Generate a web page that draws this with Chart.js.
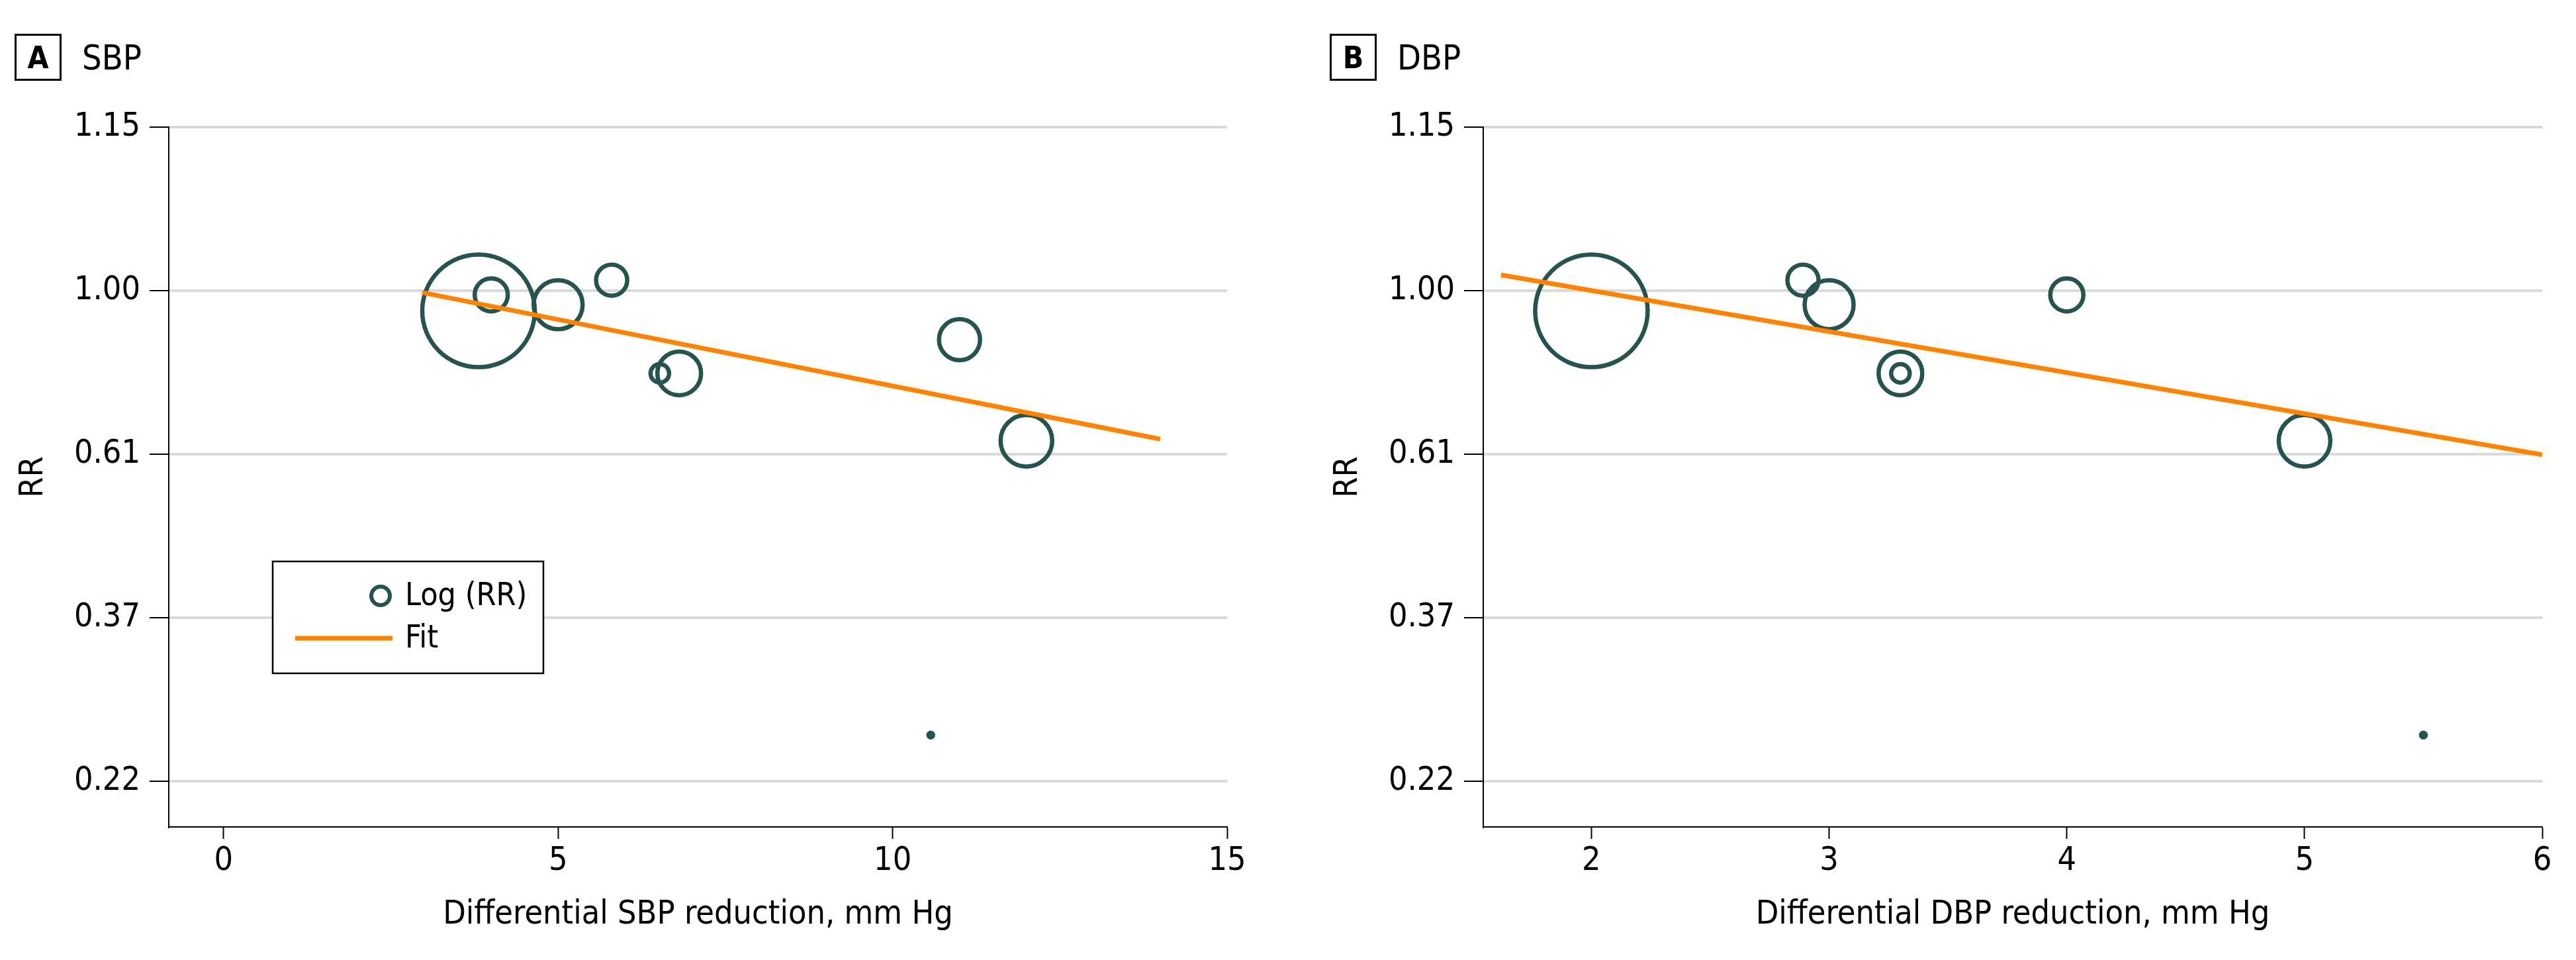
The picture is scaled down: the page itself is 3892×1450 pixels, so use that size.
<!DOCTYPE html>
<html>
<head>
<meta charset="utf-8">
<title>SBP / DBP reduction vs RR</title>
<script src="https://cdn.jsdelivr.net/npm/chart.js@4.4.1/dist/chart.umd.min.js"></script>
<style>
  html, body { margin: 0; padding: 0; background: #fff; }
  body { width: 3892px; height: 1450px; position: relative; overflow: hidden;
         font-family: 'Liberation Sans Narrow', 'DejaVu Sans Condensed', sans-serif; color: #000; }
  .panel { position: absolute; top: 0; width: 1946px; height: 1450px; }
  .panel canvas { position: absolute; left: 0; top: 0; }
  .tag { position: absolute; top: 51px; height: 71px; display: flex; align-items: center; }
  .tag b { box-sizing: border-box; width: 71px; height: 71px; border: 3px solid #000; flex: none;
           display: flex; align-items: center; justify-content: center; font-size: 46px; }
  .tag span { font-size: 52px; margin-left: 31px; }
</style>
</head>
<body>
<div class="panel" style="left:0">
  <canvas id="sbpChart" width="1946" height="1450"></canvas>
  <div class="tag" style="left:22px"><b>A</b><span>SBP</span></div>
</div>
<div class="panel" style="left:1946px">
  <canvas id="dbpChart" width="1946" height="1450"></canvas>
  <div class="tag" style="left:63px"><b>B</b><span>DBP</span></div>
</div>
<script>
const FONT = "'Liberation Sans Narrow', 'DejaVu Sans Condensed', sans-serif";
const TEAL = '#26524f';
const ORANGE = '#ff8200';

// y axis is log(RR); labels are the RR values printed on the figure
const yTickPos = [0.5, 0, -0.5, -1, -1.5];
const yTickLabels = ['1.15', '1.00', '0.61', '0.37', '0.22'];

// panel A - SBP
const sbpX = [3.81, 4.0, 5.0, 5.8, 6.52, 6.81, 11.0, 12.0, 10.57];
const sbpLogRR = [-0.062, -0.013, -0.043, 0.032, -0.253, -0.253, -0.150, -0.459, -1.359];
const sbpWeight = [85, 25, 37, 23.5, 14, 33, 31, 39, 3.5];
const sbpFitX = [2.97, 14];
const sbpFitY = [-0.006, -0.454];
const sbpXTicks = [0, 5, 10, 15];

// panel B - DBP
const dbpX = [2.0, 2.89, 3.0, 3.3, 3.3, 4.0, 5.0, 5.5];
const dbpLogRR = [-0.062, 0.032, -0.043, -0.253, -0.253, -0.013, -0.459, -1.359];
const dbpWeight = [85, 23.5, 37, 33, 14, 25, 39, 3.5];
const dbpFitX = [1.62, 6];
const dbpFitY = [0.048, -0.502];
const dbpXTicks = [2, 3, 4, 5, 6];

Chart.defaults.font.family = FONT;
Chart.defaults.color = '#000';

// boxed legend sitting inside the plot area (panel A only)
const boxLegend = {
  id: 'boxLegend',
  afterDatasetsDraw(chart, args, opts) {
    if (!opts.show) return;
    const { ctx, chartArea } = chart;
    const left = chartArea.left + 157, top = chartArea.top + 656;
    const w = 409, h = 169;
    ctx.save();
    ctx.fillStyle = '#fff';
    ctx.fillRect(left, top, w, h);
    ctx.strokeStyle = '#000';
    ctx.lineWidth = 2.5;
    ctx.strokeRect(left, top, w, h);

    const bubbles = chart.data.datasets.find(d => d.type !== 'line');
    const fit = chart.data.datasets.find(d => d.type === 'line');

    ctx.font = '48px ' + FONT;
    ctx.fillStyle = '#000';
    ctx.textBaseline = 'middle';
    ctx.textAlign = 'left';

    // bubble row
    ctx.beginPath();
    ctx.arc(left + 163, top + 52, 14, 0, Math.PI * 2);
    ctx.strokeStyle = bubbles.borderColor;
    ctx.lineWidth = 6;
    ctx.stroke();
    ctx.fillText(bubbles.label, left + 200, top + 54);

    // fit row
    ctx.beginPath();
    ctx.moveTo(left + 34, top + 116);
    ctx.lineTo(left + 181, top + 116);
    ctx.strokeStyle = fit.borderColor;
    ctx.lineWidth = 7;
    ctx.stroke();
    ctx.fillText(fit.label, left + 200, top + 118);
    ctx.restore();
  }
};

function drawPanel(id, o) {
  const ctx = document.getElementById(id).getContext('2d');
  return new Chart(ctx, {
    type: 'bubble',
    data: {
      datasets: [
        {
          type: 'line',
          label: 'Fit',
          data: o.fitX.map((x, i) => ({ x: x, y: o.fitY[i] })),
          borderColor: ORANGE,
          borderWidth: 7,
          pointRadius: 0,
          tension: 0,
          fill: false,
          order: 0
        },
        {
          label: 'Log (RR)',
          data: o.x.map((x, i) => ({ x: x, y: o.y[i], r: o.w[i] })),
          backgroundColor: 'rgba(0,0,0,0)',
          borderColor: TEAL,
          borderWidth: 6.5,
          hoverRadius: 0,
          order: 1
        }
      ]
    },
    options: {
      responsive: false,
      animation: false,
      devicePixelRatio: 1,
      layout: { padding: o.pad, autoPadding: false },   // big bubbles would otherwise widen the padding
      plugins: {
        legend: { display: false },
        tooltip: { enabled: false },
        boxLegend: { show: o.legend }
      },
      scales: {
        x: {
          type: 'linear',
          min: o.xMin,
          max: o.xMax,
          afterBuildTicks: (s) => { s.ticks = o.xTicks.map(v => ({ value: v })); },
          afterFit: (s) => { s.height = 163; s.paddingLeft = 0; s.paddingRight = 0; },
          grid: { drawOnChartArea: false, tickLength: 18, tickColor: '#000', tickWidth: 2 },
          border: { color: '#000', width: 2 },
          ticks: { font: { size: 50 }, color: '#000', padding: 4, maxRotation: 0, autoSkip: false },
          title: { display: true, text: o.xTitle, font: { size: 50 }, color: '#000', padding: 0 }
        },
        y: {
          type: 'linear',
          min: -1.64,
          max: 0.5,
          afterBuildTicks: (s) => { s.ticks = yTickPos.map(v => ({ value: v })); },
          afterFit: (s) => { s.width = 234; s.paddingTop = 0; s.paddingBottom = 0; },
          grid: { color: '#d9d9d9', lineWidth: 4, tickLength: 29, tickColor: '#000', tickWidth: 2 },
          border: { color: '#000', width: 2 },
          ticks: { callback: (v, i) => yTickLabels[i], font: { size: 50 }, color: '#000', padding: 14 },
          title: { display: true, text: 'RR', font: { size: 50 }, color: '#000', padding: 0 }
        }
      }
    },
    plugins: [boxLegend]
  });
}

drawPanel('sbpChart', {
  x: sbpX, y: sbpLogRR, w: sbpWeight, fitX: sbpFitX, fitY: sbpFitY,
  xTicks: sbpXTicks, xMin: -0.82, xMax: 15,
  xTitle: 'Differential SBP reduction, mm Hg',
  pad: { left: 21, top: 192, right: 92, bottom: 38 },
  legend: true
});

drawPanel('dbpChart', {
  x: dbpX, y: dbpLogRR, w: dbpWeight, fitX: dbpFitX, fitY: dbpFitY,
  xTicks: dbpXTicks, xMin: 1.545, xMax: 6,
  xTitle: 'Differential DBP reduction, mm Hg',
  pad: { left: 61, top: 192, right: 51, bottom: 38 },
  legend: false
});
</script>
</body>
</html>
